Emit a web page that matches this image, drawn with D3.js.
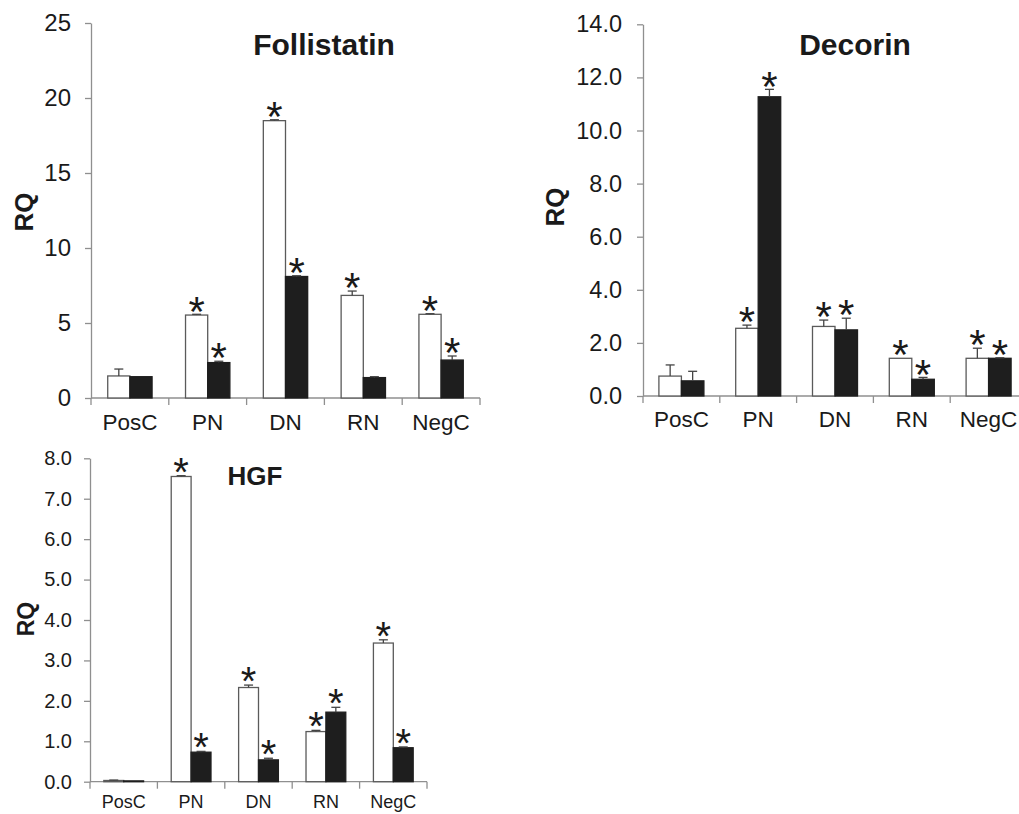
<!DOCTYPE html>
<html>
<head>
<meta charset="utf-8">
<script src="https://cdn.jsdelivr.net/npm/d3@7"></script>
<style>
  html, body { margin: 0; padding: 0; background: #ffffff; }
  svg { display: block; }
  text { font-family: "Liberation Sans", Arial, Helvetica, sans-serif; fill: #1a1a1a; }
</style>
</head>
<body>
<svg id="chart" width="1019" height="814"></svg>
<script>
// ---------------- DATA ----------------
const categories = ["PosC", "PN", "DN", "RN", "NegC"];

// Follistatin
const follWhite    = [1.47, 5.53, 18.49, 6.84, 5.58];
const follWhiteErr = [0.46, 0.05, 0.06, 0.29, 0.04];
const follBlack    = [1.42, 2.36, 8.10, 1.36, 2.53];
const follBlackErr = [0.00, 0.09, 0.05, 0.06, 0.27];
const follWhiteSig = [false, true, true, true, true];
const follBlackSig = [false, true, true, false, true];
const follTicks    = [0, 5, 10, 15, 20, 25];

// Decorin
const decWhite    = [0.75, 2.55, 2.62, 1.42, 1.42];
const decWhiteErr = [0.42, 0.12, 0.24, 0.00, 0.38];
const decBlack    = [0.57, 11.27, 2.49, 0.63, 1.42];
const decBlackErr = [0.36, 0.28, 0.44, 0.07, 0.02];
const decWhiteSig = [false, true, true, true, true];
const decBlackSig = [false, true, true, true, true];
const decTicks    = [0, 2, 4, 6, 8, 10, 12, 14];

// HGF
const hgfWhite    = [0.03, 7.55, 2.33, 1.24, 3.43];
const hgfWhiteErr = [0.01, 0.02, 0.06, 0.03, 0.08];
const hgfBlack    = [0.02, 0.73, 0.54, 1.72, 0.84];
const hgfBlackErr = [0.00, 0.02, 0.04, 0.12, 0.02];
const hgfWhiteSig = [false, true, true, true, true];
const hgfBlackSig = [false, true, true, true, true];
const hgfTicks    = [0, 1, 2, 3, 4, 5, 6, 7, 8];

const yLabel = "RQ";

// ---------------- DRAW ----------------
const svg = d3.select("#chart");
const AXIS = "#8f8f8f";

function drawPanel(p) {
  const g = svg.append("g");
  const x = d3.scaleBand().domain(categories).range([p.x0, p.x1]).padding(0);
  const bw = x.bandwidth();
  const sub = d3.scaleBand().domain(["white", "black"])
    .range([bw / 2 - bw * p.barFrac, bw / 2 + bw * p.barFrac]).padding(0);
  const y = d3.scaleLinear().domain([0, p.ticks[p.ticks.length - 1]]).range([p.y0, p.y1]);

  // y axis
  const ya = g.append("g").attr("transform", `translate(${p.x0},0)`)
    .call(d3.axisLeft(y).tickValues(p.ticks).tickFormat(d3.format(p.fmt))
      .tickSize(6).tickSizeOuter(0).tickPadding(p.tickPad));
  ya.select(".domain").attr("stroke", AXIS).attr("stroke-width", 1.3);
  ya.selectAll(".tick line").attr("stroke", AXIS).attr("stroke-width", 1.3);
  ya.selectAll(".tick text").style("font-size", p.tickFont + "px").attr("fill", "#1a1a1a");

  // x axis
  g.append("line").attr("x1", p.x0).attr("x2", p.x1).attr("y1", p.y0).attr("y2", p.y0)
    .attr("stroke", AXIS).attr("stroke-width", 1.3);
  const edges = categories.map(c => x(c)).concat([p.x1]);
  g.selectAll(".xt").data(edges).join("line")
    .attr("x1", d => d).attr("x2", d => d).attr("y1", p.y0).attr("y2", p.y0 + 7)
    .attr("stroke", AXIS).attr("stroke-width", 1.3);
  g.selectAll(".xl").data(categories).join("text")
    .attr("x", d => x(d) + bw / 2).attr("y", p.catY)
    .attr("text-anchor", "middle").style("font-size", p.catFont + "px").text(d => d);

  const series = [
    { key: "white", vals: p.white, errs: p.whiteErr, sig: p.whiteSig, fill: "#ffffff", stroke: "#5a5a5a" },
    { key: "black", vals: p.black, errs: p.blackErr, sig: p.blackSig, fill: "#1e1e1e", stroke: "#1e1e1e" }
  ];
  series.forEach(s => {
    const rows = categories.map((c, i) => ({ c, v: s.vals[i], e: s.errs[i], sig: s.sig[i] }));
    const bx = d => x(d.c) + sub(s.key);
    const cx = d => bx(d) + sub.bandwidth() / 2;
    // bars
    g.selectAll(".bar-" + s.key).data(rows).join("rect")
      .attr("x", bx).attr("width", sub.bandwidth())
      .attr("y", d => y(d.v)).attr("height", d => y(0) - y(d.v))
      .attr("fill", s.fill).attr("stroke", s.stroke).attr("stroke-width", 1.3);
    // error bars
    const eb = rows.filter(d => d.e > 0);
    g.selectAll(".ev-" + s.key).data(eb).join("line")
      .attr("x1", cx).attr("x2", cx).attr("y1", d => y(d.v)).attr("y2", d => y(d.v + d.e))
      .attr("stroke", "#444").attr("stroke-width", 1.3);
    g.selectAll(".ec-" + s.key).data(eb).join("line")
      .attr("x1", d => cx(d) - 4.5).attr("x2", d => cx(d) + 4.5)
      .attr("y1", d => y(d.v + d.e)).attr("y2", d => y(d.v + d.e))
      .attr("stroke", "#444").attr("stroke-width", 1.3);
    // asterisks
    g.selectAll(".as-" + s.key).data(rows.filter(d => d.sig)).join("text")
      .attr("x", cx).attr("y", d => y(d.v + d.e) - 14 + p.astFont * 0.6)
      .attr("text-anchor", "middle").style("font-size", p.astFont + "px").text("*");
  });

  // title
  g.append("text").attr("x", p.titleX).attr("y", p.titleY).attr("text-anchor", "middle")
    .style("font-size", p.titleFont + "px").style("font-weight", "bold").text(p.title);
  // y label
  g.append("text").attr("transform", `translate(${p.rqX},${p.rqY}) rotate(-90)`)
    .attr("text-anchor", "middle").style("font-size", p.rqFont + "px")
    .style("font-weight", "bold").text(yLabel);
}

drawPanel({
  title: "Follistatin", white: follWhite, whiteErr: follWhiteErr, black: follBlack, blackErr: follBlackErr,
  whiteSig: follWhiteSig, blackSig: follBlackSig, ticks: follTicks, fmt: "d",
  x0: 91, x1: 480, y0: 398, y1: 23, barFrac: 0.285, tickPad: 14, tickFont: 24,
  catFont: 22.5, catY: 430, astFont: 42, titleX: 324, titleY: 55, titleFont: 30,
  rqX: 33, rqY: 212, rqFont: 26
});
drawPanel({
  title: "Decorin", white: decWhite, whiteErr: decWhiteErr, black: decBlack, blackErr: decBlackErr,
  whiteSig: decWhiteSig, blackSig: decBlackSig, ticks: decTicks, fmt: ".1f",
  x0: 643, x1: 1027, y0: 396, y1: 24.3, barFrac: 0.293, tickPad: 15, tickFont: 23.5,
  catFont: 22.5, catY: 427, astFont: 42, titleX: 855, titleY: 55, titleFont: 30,
  rqX: 564, rqY: 207, rqFont: 26
});
drawPanel({
  title: "HGF", white: hgfWhite, whiteErr: hgfWhiteErr, black: hgfBlack, blackErr: hgfBlackErr,
  whiteSig: hgfWhiteSig, blackSig: hgfBlackSig, ticks: hgfTicks, fmt: ".1f",
  x0: 90, x1: 427, y0: 781.7, y1: 458.3, barFrac: 0.295, tickPad: 12, tickFont: 20,
  catFont: 18, catY: 808, astFont: 40, titleX: 255, titleY: 485, titleFont: 26,
  rqX: 34, rqY: 619, rqFont: 23
});
</script>
</body>
</html>
